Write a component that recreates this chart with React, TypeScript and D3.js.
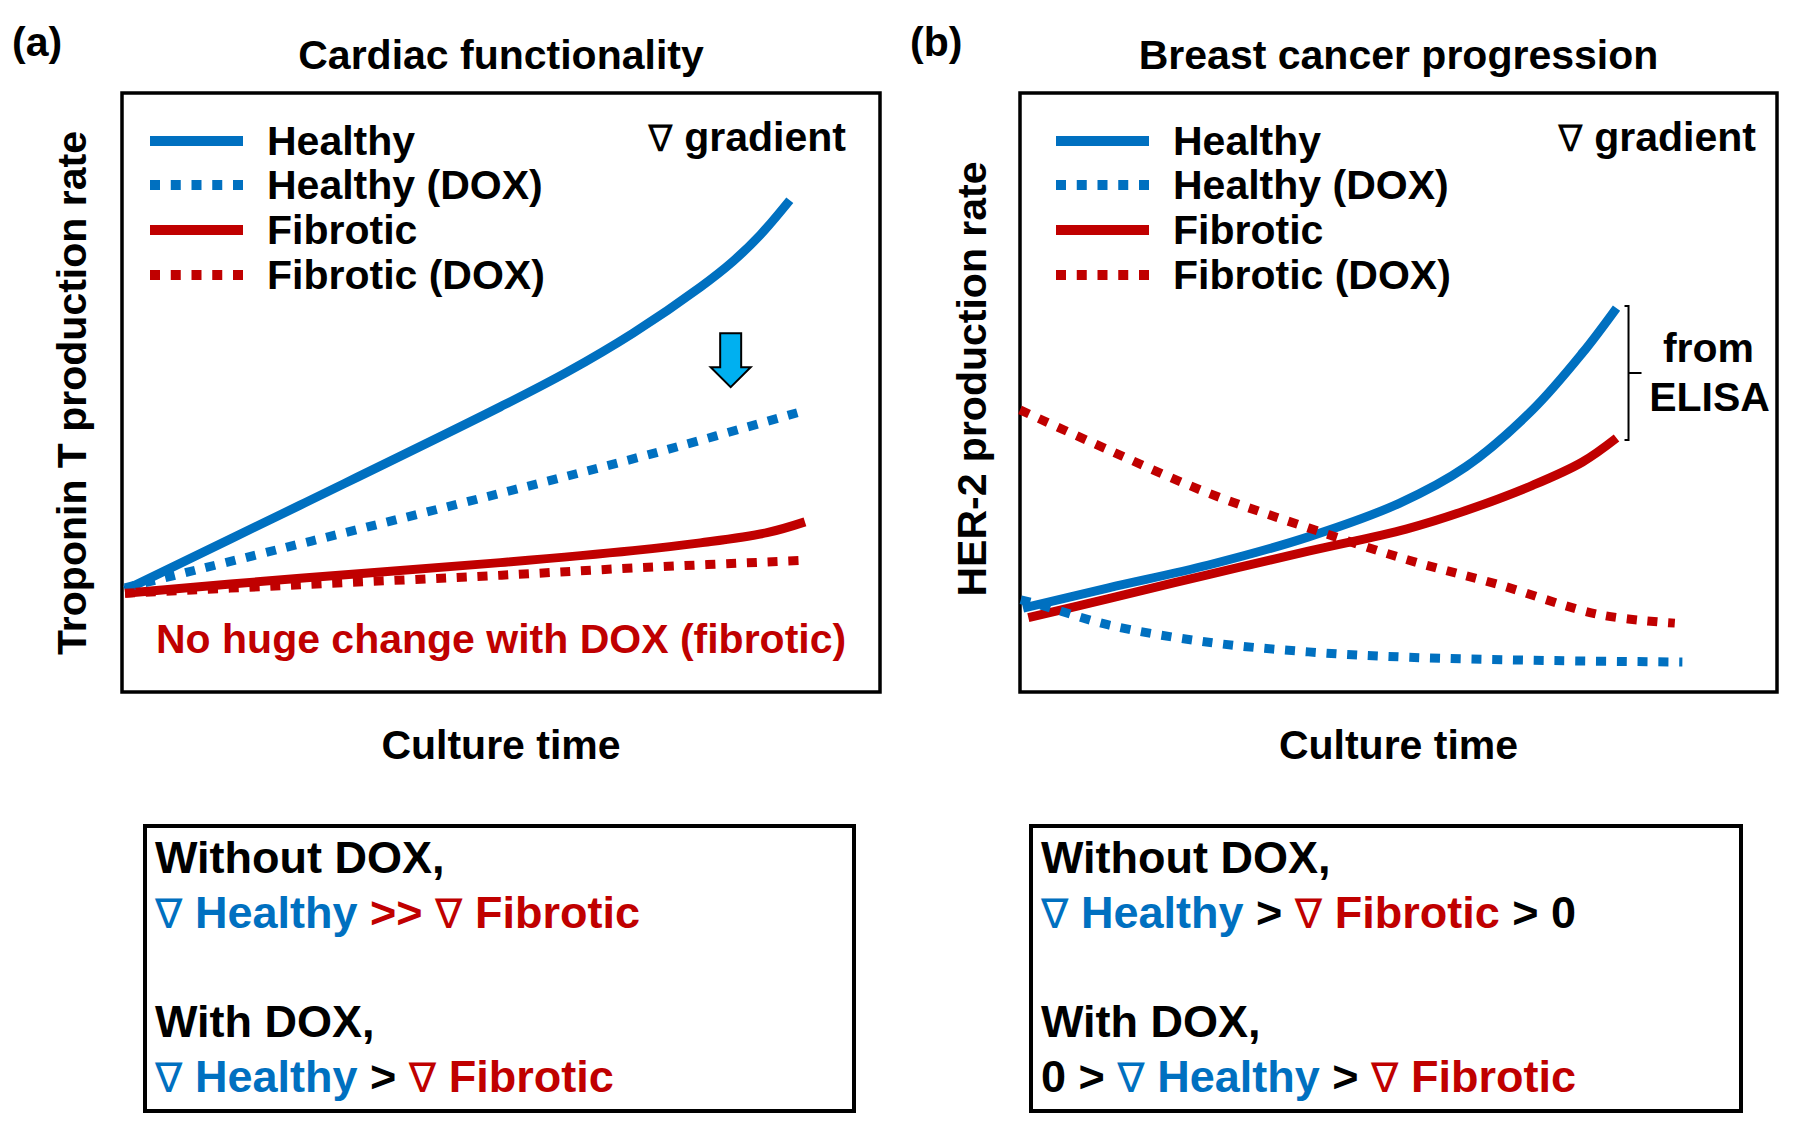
import React from 'react';
import * as d3 from 'd3';

// ---------- Data (culture time 0-100, production rate 0-100, arbitrary units) ----------
// Panel (a) Cardiac functionality - Troponin T
const cardiacHealthyTime = [0.4, 23.5, 49.9, 58.7, 67.4, 76.3, 80.6, 84.2, 88.1];
const cardiacHealthyRate = [17.0, 31.2, 47.6, 53.4, 59.9, 67.6, 71.9, 76.3, 82.1];
const cardiacHealthyDoxTime = [0.4, 25, 50, 70, 90.4];
const cardiacHealthyDoxRate = [17.4, 25.2, 33.2, 39.8, 47.1];
const cardiacFibroticTime = [0.4, 23.5, 49.9, 67.4, 76.3, 85.1, 90.1];
const cardiacFibroticRate = [16.5, 19.0, 21.6, 23.6, 24.9, 26.6, 28.4];
const cardiacFibroticDoxTime = [0.4, 23.5, 50.1, 67.4, 90.4];
const cardiacFibroticDoxRate = [16.5, 17.9, 19.5, 20.7, 22.0];

// Panel (b) Breast cancer progression - HER-2
const cancerHealthyTime = [0.4, 11.7, 24.9, 38.1, 50.1, 58.9, 67.7, 74.3, 78.8];
const cancerHealthyRate = [14.0, 17.4, 21.2, 25.9, 31.5, 37.6, 47.1, 56.6, 64.1];
const cancerHealthyDoxTime = [0.1, 2.8, 11.7, 24.9, 38.1, 51.4, 67.7, 87.5];
const cancerHealthyDoxRate = [15.4, 14.5, 11.2, 8.3, 6.7, 5.8, 5.3, 5.0];
const cancerFibroticTime = [1.1, 11.7, 24.9, 38.1, 51.0, 58.9, 67.7, 74.3, 78.8];
const cancerFibroticRate = [12.4, 15.6, 19.6, 23.5, 27.2, 30.3, 34.5, 38.4, 42.4];
const cancerFibroticDoxTime = [0, 11.7, 24.9, 38.1, 51.4, 63.3, 76.6, 86.5];
const cancerFibroticDoxRate = [47.1, 40.4, 33.2, 27.4, 22.0, 17.9, 12.9, 11.5];

const legendLabels = ['Healthy', 'Healthy (DOX)', 'Fibrotic', 'Fibrotic (DOX)'];
const legendDotted = [false, true, false, true];
const legendColorKeys = ['blue', 'blue', 'red', 'red'];

// Arrow annotation in panel (a): time, rate top, rate tip
const arrowTime = [80.3];
const arrowRate = [59.9, 50.9];

// ---------- Styles ----------
const BLUE = '#0070c0';
const RED = '#c00000';
const ARROW = '#00b0f0';
const FONT = '"Liberation Sans", Arial, Helvetica, sans-serif';
const NABLA_FONT = '"DejaVu Sans", sans-serif';
const DASH = '10 10.75';

const zip = (xs: number[], ys: number[]) => xs.map((x, i) => [x, ys[i]] as [number, number]);

type Frame = { x0: number; x1: number; y0: number; y1: number };

function Nabla({ color, size }: { color: string; size: number }) {
  return (
    <tspan fill={color} fontFamily={NABLA_FONT} fontWeight="normal" fontSize={size}>
      ∇
    </tspan>
  );
}

function Panel({
  frame,
  label,
  title,
  yLabel,
  yLabelCenter,
  legendX,
  gradientRight,
  series,
  children,
}: {
  frame: Frame;
  label: string;
  title: string;
  yLabel: string;
  yLabelCenter: [number, number];
  legendX: number;
  gradientRight: number;
  series: { t: number[]; r: number[]; color: string; dotted: boolean }[];
  children?: (x: d3.ScaleLinear<number, number>, y: d3.ScaleLinear<number, number>) => React.ReactNode;
}) {
  const x = d3.scaleLinear().domain([0, 100]).range([frame.x0, frame.x1]);
  const y = d3.scaleLinear().domain([0, 100]).range([frame.y1, frame.y0]);
  const line = d3
    .line<[number, number]>()
    .x((d) => x(d[0]))
    .y((d) => y(d[1]))
    .curve(d3.curveCatmullRom.alpha(0.5));
  const cx = (frame.x0 + frame.x1) / 2;
  const legX0 = legendX;
  const legX1 = legX0 + 93;
  const legTextX = legX0 + 117;
  const legRows = [141, 185, 230, 275];
  return (
    <g>
      <text x={frame.x0 - 110} y={56} fontFamily={FONT} fontWeight="bold" fontSize={41} fill="#000">
        {label}
      </text>
      <text x={cx} y={69} textAnchor="middle" fontFamily={FONT} fontWeight="bold" fontSize={41} fill="#000">
        {title}
      </text>
      <rect
        x={frame.x0}
        y={frame.y0}
        width={frame.x1 - frame.x0}
        height={frame.y1 - frame.y0}
        fill="#fff"
        stroke="#000"
        strokeWidth={3.5}
      />
      <text
        transform={`translate(${yLabelCenter[0]},${yLabelCenter[1]}) rotate(-90)`}
        textAnchor="middle"
        dy="0.36em"
        fontFamily={FONT}
        fontWeight="bold"
        fontSize={41}
        fill="#000"
      >
        {yLabel}
      </text>
      <text x={cx} y={759} textAnchor="middle" fontFamily={FONT} fontWeight="bold" fontSize={41} fill="#000">
        Culture time
      </text>
      {/* legend */}
      {legendLabels.map((lab, i) => (
        <g key={lab}>
          <line
            x1={legX0}
            x2={legX1}
            y1={legRows[i]}
            y2={legRows[i]}
            stroke={legendColorKeys[i] === 'blue' ? BLUE : RED}
            strokeWidth={10}
            strokeDasharray={legendDotted[i] ? DASH : undefined}
          />
          <text x={legTextX} y={legRows[i] + 14} fontFamily={FONT} fontWeight="bold" fontSize={41} fill="#000">
            {lab}
          </text>
        </g>
      ))}
      <text x={gradientRight} y={151} textAnchor="end" fontFamily={FONT} fontWeight="bold" fontSize={41} fill="#000">
        <tspan fontFamily={NABLA_FONT} fontWeight="normal" fontSize={37}>
          ∇
        </tspan>
        {' gradient'}
      </text>
      {/* curves */}
      {series.map((s, i) => (
        <path
          key={i}
          d={line(zip(s.t, s.r)) || ''}
          fill="none"
          stroke={s.color}
          strokeWidth={9}
          strokeDasharray={s.dotted ? DASH : undefined}
        />
      ))}
      {children && children(x, y)}
    </g>
  );
}

function BoxText({ x, y, lines }: { x: number; y: number; lines: React.ReactNode[] }) {
  const baselines = [47, 102, 211, 266];
  return (
    <g>
      <rect x={x} y={y} width={x < 900 ? 709 : 710} height={285} fill="#fff" stroke="#000" strokeWidth={4} />
      {lines.map((l, i) => (
        <text key={i} x={x + 10} y={y + baselines[i]} fontFamily={FONT} fontWeight="bold" fontSize={45} fill="#000">
          {l}
        </text>
      ))}
    </g>
  );
}

export default function App() {
  const frameA: Frame = { x0: 122, x1: 880, y0: 93, y1: 692 };
  const frameB: Frame = { x0: 1020, x1: 1777, y0: 93, y1: 692 };

  const seriesA = [
    { t: cardiacHealthyTime, r: cardiacHealthyRate, color: BLUE, dotted: false },
    { t: cardiacFibroticTime, r: cardiacFibroticRate, color: RED, dotted: false },
    { t: cardiacHealthyDoxTime, r: cardiacHealthyDoxRate, color: BLUE, dotted: true },
    { t: cardiacFibroticDoxTime, r: cardiacFibroticDoxRate, color: RED, dotted: true },
  ];
  const seriesB = [
    { t: cancerHealthyTime, r: cancerHealthyRate, color: BLUE, dotted: false },
    { t: cancerFibroticTime, r: cancerFibroticRate, color: RED, dotted: false },
    { t: cancerHealthyDoxTime, r: cancerHealthyDoxRate, color: BLUE, dotted: true },
    { t: cancerFibroticDoxTime, r: cancerFibroticDoxRate, color: RED, dotted: true },
  ];

  return (
    <svg
      width={1800}
      height={1128}
      viewBox="0 0 1800 1128"
      style={{ position: 'absolute', left: 0, top: 0, background: '#fff' }}
    >
      <rect x={0} y={0} width={1800} height={1128} fill="#fff" />
      <Panel
        frame={frameA}
        label="(a)"
        title="Cardiac functionality"
        yLabel="Troponin T production rate"
        yLabelCenter={[71, 393]}
        legendX={150}
        gradientRight={846}
        series={seriesA}
      >
        {(x, y) => {
          const cx = x(arrowTime[0]);
          const top = y(arrowRate[0]);
          const tip = y(arrowRate[1]);
          const headStart = top + (tip - top) * 0.63;
          const sw = 10.5;
          const hw = 20;
          const d = `M${cx - sw},${top} L${cx + sw},${top} L${cx + sw},${headStart} L${cx + hw},${headStart} L${cx},${tip} L${cx - hw},${headStart} L${cx - sw},${headStart} Z`;
          return (
            <g>
              <path d={d} fill={ARROW} stroke="#000" strokeWidth={2} strokeLinejoin="miter" />
              <text x={156} y={653} fontFamily={FONT} fontWeight="bold" fontSize={41} fill={RED}>
                No huge change with DOX (fibrotic)
              </text>
            </g>
          );
        }}
      </Panel>
      <Panel
        frame={frameB}
        label="(b)"
        title="Breast cancer progression"
        yLabel="HER-2 production rate"
        yLabelCenter={[971, 379]}
        legendX={1056}
        gradientRight={1756}
        series={seriesB}
      >
        {(x, y) => {
          const bx = x(cancerHealthyTime[cancerHealthyTime.length - 1]) + 12;
          const top = y(cancerHealthyRate[cancerHealthyRate.length - 1]) - 2;
          const bot = y(cancerFibroticRate[cancerFibroticRate.length - 1]) + 2;
          const mid = (top + bot) / 2;
          return (
            <g>
              <path
                d={`M${bx - 4},${top} L${bx},${top} L${bx},${bot} L${bx - 4},${bot} M${bx},${mid} L${bx + 13},${mid}`}
                fill="none"
                stroke="#000"
                strokeWidth={2}
              />
              <text x={bx + 80} y={362} textAnchor="middle" fontFamily={FONT} fontWeight="bold" fontSize={41}>
                from
              </text>
              <text x={bx + 81} y={411} textAnchor="middle" fontFamily={FONT} fontWeight="bold" fontSize={41}>
                ELISA
              </text>
            </g>
          );
        }}
      </Panel>

      <BoxText
        x={145}
        y={826}
        lines={[
          'Without DOX,',
          <>
            <Nabla color={BLUE} size={41} />
            <tspan fill={BLUE}> Healthy</tspan>
            <tspan fill={RED}> &gt;&gt; </tspan>
            <Nabla color={RED} size={41} />
            <tspan fill={RED}> Fibrotic</tspan>
          </>,
          'With DOX,',
          <>
            <Nabla color={BLUE} size={41} />
            <tspan fill={BLUE}> Healthy</tspan>
            <tspan fill="#000"> &gt; </tspan>
            <Nabla color={RED} size={41} />
            <tspan fill={RED}> Fibrotic</tspan>
          </>,
        ]}
      />
      <BoxText
        x={1031}
        y={826}
        lines={[
          'Without DOX,',
          <>
            <Nabla color={BLUE} size={41} />
            <tspan fill={BLUE}> Healthy</tspan>
            <tspan fill="#000"> &gt; </tspan>
            <Nabla color={RED} size={41} />
            <tspan fill={RED}> Fibrotic</tspan>
            <tspan fill="#000"> &gt; 0</tspan>
          </>,
          'With DOX,',
          <>
            <tspan fill="#000">0 &gt; </tspan>
            <Nabla color={BLUE} size={41} />
            <tspan fill={BLUE}> Healthy</tspan>
            <tspan fill="#000"> &gt; </tspan>
            <Nabla color={RED} size={41} />
            <tspan fill={RED}> Fibrotic</tspan>
          </>,
        ]}
      />
    </svg>
  );
}
